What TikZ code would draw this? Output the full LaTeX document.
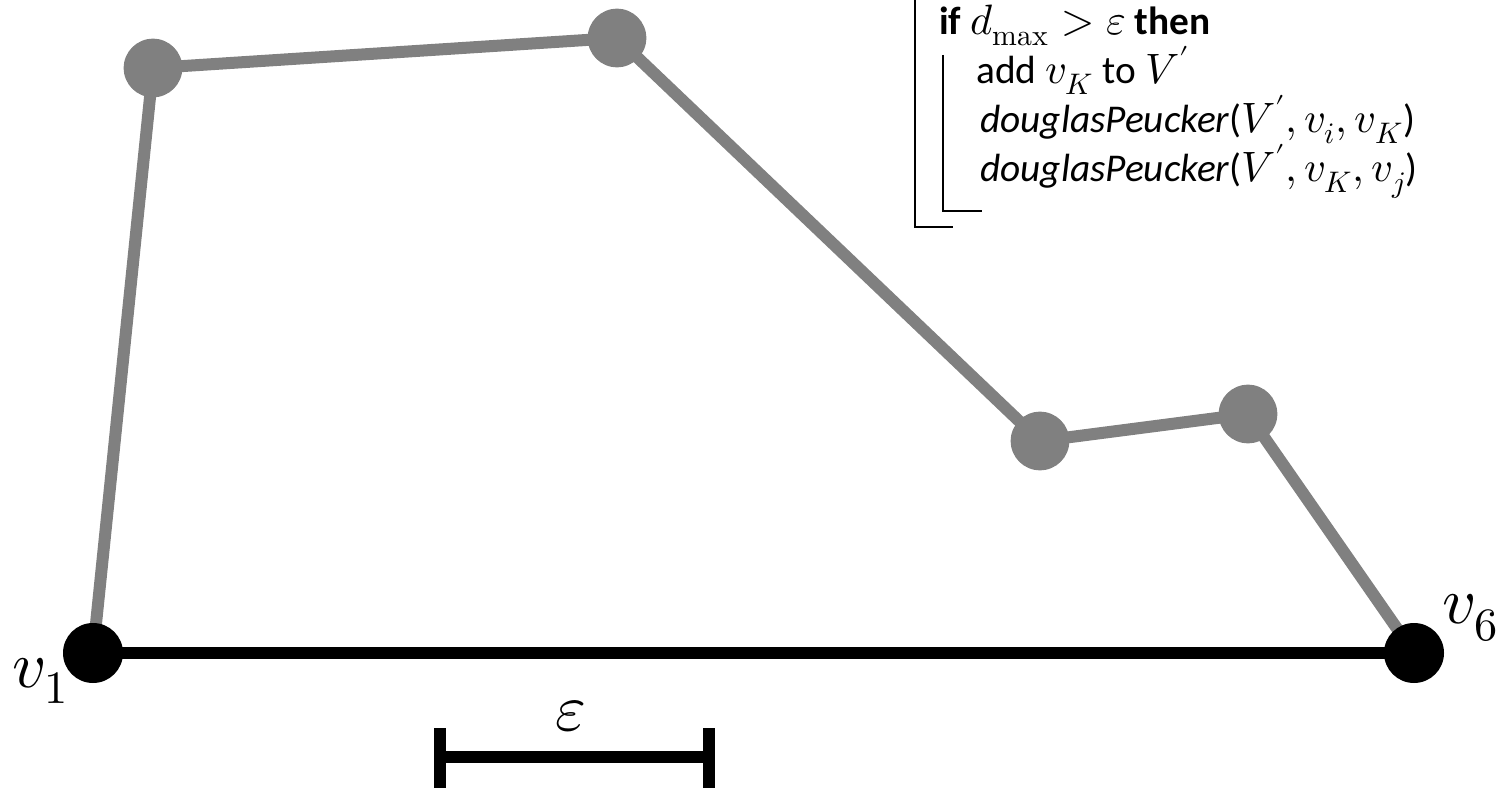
\documentclass[tikz,border=0pt]{standalone}
\usepackage{unicode-math}
\setmainfont{Carlito}
\setmathfont[Scale=1.08]{Latin Modern Math}
\begin{document}
\begin{tikzpicture}[x=0.75pt,y=-0.75pt,
  graypt/.style={circle,fill=ptgray,inner sep=0pt,minimum size=44pt},
  blackpt/.style={circle,fill=black,inner sep=0pt,minimum size=45pt},
  grayedge/.style={draw=ptgray,line width=9pt},
  blackedge/.style={draw=black,line width=9pt},
  bracket/.style={draw=black,line width=1.2pt},
  codeline/.style={anchor=base west,inner sep=0pt,font=\fontsize{29.5}{34}\selectfont},
  biglabel/.style={inner sep=0pt,font=\fontsize{46}{52}\selectfont}]
\definecolor{ptgray}{RGB}{128,128,128}
\useasboundingbox (0,0) rectangle (1507,788);
% points
\coordinate (p1) at (93,653);
\coordinate (p2) at (153,68);
\coordinate (p3) at (617,38);
\coordinate (p4) at (1040,441);
\coordinate (p5) at (1248,414);
\coordinate (p6) at (1414,653);
% edges
\draw[grayedge] (p1) -- (p2) -- (p3) -- (p4) -- (p5) -- (p6);
\draw[blackedge] (p1) -- (p6);
% vertices
\node[blackpt] (v1) at (p1) {};
\node[graypt] (v2) at (p2) {};
\node[graypt] (v3) at (p3) {};
\node[graypt] (v4) at (p4) {};
\node[graypt] (v5) at (p5) {};
\node[blackpt] (v6) at (p6) {};
\node[biglabel] (l1) at (40,681) {$v_1$};
\node[biglabel] (l6) at (1470,618) {$v_6$};
% epsilon scale bar
\coordinate (ea) at (440,757);
\coordinate (eb) at (709,757);
\draw[blackedge] (ea) -- (eb);
\draw[blackedge] (440,728) -- (440,790);
\draw[blackedge] (709,728) -- (709,790);
\node[biglabel] (eps) at (571,716) {$\varepsilon$};
% code block
\node[codeline] (c1) at (939,35) {\textbf{if} $d_{\symup{max}} > \varepsilon$ \textbf{then}};
\node[codeline] (c2) at (976,84) {add $v_K$ to $V'$};
\node[codeline] (c3) at (980,133) {\textit{douglasPeucker}($V', v_i, v_K$)};
\node[codeline] (c4) at (980,182) {\textit{douglasPeucker}($V', v_K, v_j$)};
\draw[bracket] (915,-2) -- (915,227) -- (953,227);
\draw[bracket] (943,55) -- (943,211) -- (982,211);
\end{tikzpicture}
\end{document}
